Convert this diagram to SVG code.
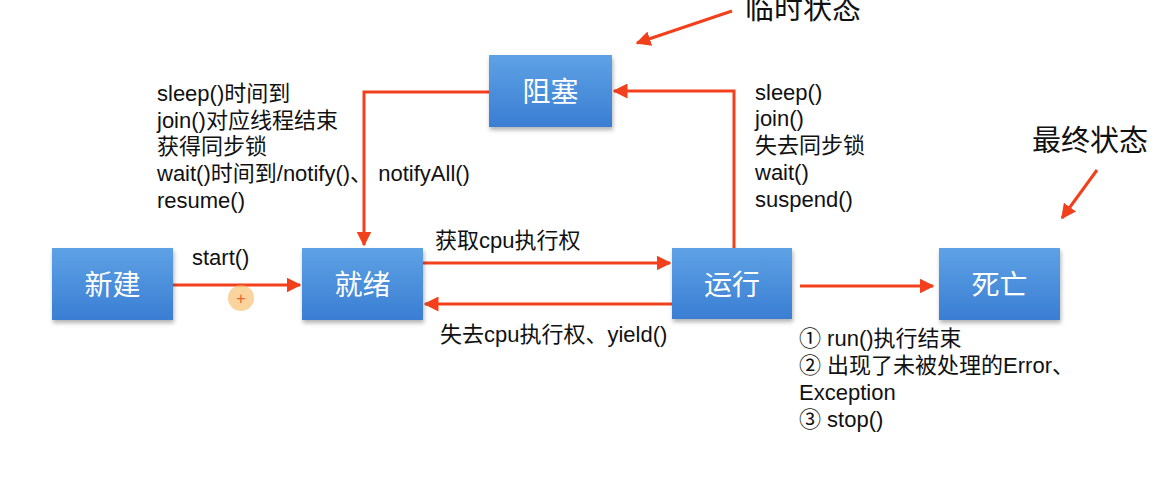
<svg xmlns="http://www.w3.org/2000/svg" width="1166" height="486" viewBox="0 0 1166 486">
<defs>
<linearGradient id="g" x1="0" y1="0" x2="0" y2="1">
<stop offset="0" stop-color="#5ea2e5"/>
<stop offset="1" stop-color="#3a7ed3"/>
</linearGradient>
<filter id="sh" x="-20%" y="-20%" width="140%" height="150%">
<feDropShadow dx="1" dy="3" stdDeviation="2" flood-color="#000" flood-opacity="0.3"/>
</filter>
<marker id="ah" viewBox="0 0 10 10" refX="9" refY="5" markerWidth="5" markerHeight="5" orient="auto-start-reverse" markerUnits="strokeWidth">
<path d="M0,0 L10,5 L0,10 Z" fill="#f2401c"/>
</marker>
<style>
.n{fill:url(#g);filter:url(#sh)}
.nt{fill:#fff;font-family:"Liberation Sans","Noto Sans CJK SC",sans-serif;font-size:28px;text-anchor:middle}
.t{fill:#111;font-family:"Liberation Sans","Noto Sans CJK SC",sans-serif;font-size:22px}
.big{font-size:29px}
.c{fill:none;stroke:#f2401c;stroke-width:3;marker-end:url(#ah)}
</style>
</defs>
<rect width="1166" height="486" fill="#fff"/>
<g id="connectors">
<path class="c" d="M173,285 H300"/>
<path class="c" d="M423,263 H670"/>
<path class="c" d="M672,304 H425"/>
<path class="c" d="M734,248 V91 H614"/>
<path class="c" d="M489,92 H364 V245"/>
<path class="c" d="M800,286 H933"/>
<path class="c" d="M732,11 L637,43"/>
<path class="c" d="M1097,170 L1062,218"/>
</g>
<g id="node-new"><rect class="n" x="52" y="248" width="121" height="72"/><text class="nt" x="112.5" y="295">新建</text></g>
<g id="node-ready"><rect class="n" x="302" y="248" width="121" height="72"/><text class="nt" x="362.5" y="295">就绪</text></g>
<g id="node-blocked"><rect class="n" x="489" y="55" width="123" height="72"/><text class="nt" x="550.5" y="102">阻塞</text></g>
<g id="node-running"><rect class="n" x="672" y="248" width="120" height="71"/><text class="nt" x="732" y="295">运行</text></g>
<g id="node-dead"><rect class="n" x="939" y="248" width="121" height="72"/><text class="nt" x="999.5" y="295">死亡</text></g>
<g id="labels">
<text class="t big" x="745" y="19">临时状态</text>
<text class="t big" x="1032" y="151">最终状态</text>
<text class="t" x="157"><tspan x="157" y="101">sleep()时间到</tspan><tspan x="157" y="128">join()对应线程结束</tspan><tspan x="157" y="154">获得同步锁</tspan><tspan x="157" y="181">wait()时间到/notify()、 notifyAll()</tspan><tspan x="157" y="208">resume()</tspan></text>
<text class="t" x="755"><tspan x="755" y="100">sleep()</tspan><tspan x="755" y="126">join()</tspan><tspan x="755" y="153">失去同步锁</tspan><tspan x="755" y="180">wait()</tspan><tspan x="755" y="207">suspend()</tspan></text>
<text class="t" x="192" y="265">start()</text>
<text class="t" x="435" y="248">获取cpu执行权</text>
<text class="t" x="440" y="342">失去cpu执行权、yield()</text>
<text class="t" x="799"><tspan x="799" y="346">① run()执行结束</tspan><tspan x="799" y="373">② 出现了未被处理的Error、</tspan><tspan x="799" y="400">Exception</tspan><tspan x="799" y="427">③ stop()</tspan></text>
</g>
<g id="cursor"><circle cx="241" cy="298" r="13" fill="#f7b55c" opacity="0.6"/><text x="241" y="304" font-family="Liberation Sans,sans-serif" font-size="16" fill="#e8602a" text-anchor="middle">+</text></g>
</svg>
